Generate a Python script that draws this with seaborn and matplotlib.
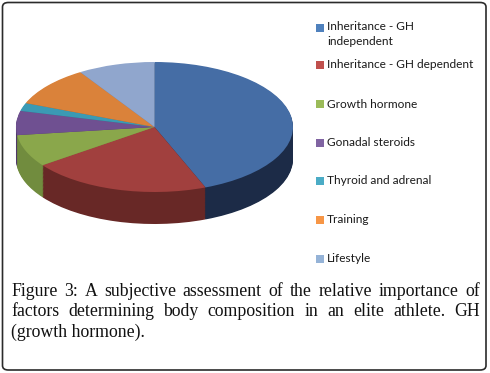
import numpy as np
import pandas as pd
import seaborn as sns
import matplotlib
matplotlib.use("Agg")
import matplotlib.pyplot as plt
from matplotlib.patches import FancyBboxPatch, Rectangle

# ---------------- data ----------------
categories = ["Inheritance - GH\nindependent", "Inheritance - GH dependent",
              "Growth hormone", "Gonadal steroids", "Thyroid and adrenal",
              "Training", "Lifestyle"]
values = [44, 21, 8, 6, 2, 10, 9]
top_colors = ["#456da5", "#a1403e", "#8aa74b", "#6f5091", "#3b9ab4", "#da823a", "#90a6cd"]
side_colors = ["#1c2b47", "#682826", "#718c3e", "#4e3868", "#2a7184", "#a35f29", "#6a7a98"]
legend_colors = ["#4f81bd", "#c0504d", "#9bbb59", "#8064a2", "#4bacc6", "#f79646", "#95b3d7"]
caption_lines = ["Figure 3: A subjective assessment of the relative importance of",
                 "factors determining body composition in an elite athlete. GH",
                 "(growth hormone)."]

sns.set_theme(style="white")
W, H = 490, 373
fig = plt.figure(figsize=(W / 100, H / 100), dpi=100)
fig.patch.set_facecolor("white")


def px(x0, y0, x1, y1):
    return [x0 / W, 1 - y1 / H, (x1 - x0) / W, (y1 - y0) / H]


# ---------------- 3D-looking pie ----------------
ry_px = 65.0
depth_px = 32.0
top_px = 62.0
depth = depth_px / ry_px
bottom_px = top_px + (2 + depth) * ry_px
ax = fig.add_axes(px(16, top_px, 293, bottom_px))
n_layers = 40
for k in range(n_layers, 0, -1):
    ax.pie(values, colors=side_colors, startangle=90, counterclock=False,
           center=(0, -depth * k / n_layers), radius=1,
           wedgeprops=dict(linewidth=0, antialiased=True))
ax.pie(values, colors=top_colors, startangle=90, counterclock=False,
       center=(0, 0), radius=1, wedgeprops=dict(linewidth=0))
ax.set_aspect("auto")
ax.set_xlim(-1, 1)
ax.set_ylim(-1 - depth, 1)
ax.axis("off")

# ---------------- legend ----------------
leg_font = ["Lato", "DejaVu Sans"]
leg_y = [28, 65, 104, 143, 181, 220, 259]
for lab, col, y in zip(categories, legend_colors, leg_y):
    fig.patches.append(Rectangle((316 / W, 1 - (y + 4) / H), 8 / W, 8 / H,
                                 transform=fig.transFigure, facecolor=col,
                                 edgecolor="none"))
    if "\n" in lab:
        fig.text(327 / W, 1 - (y - 7) / H, lab, family=leg_font, fontsize=8.6,
                 color="#1a1a1a", va="top", linespacing=1.45)
    else:
        fig.text(327 / W, 1 - y / H, lab, family=leg_font, fontsize=8.6,
                 color="#1a1a1a", va="center")

# ---------------- caption (justified) ----------------
cap_font = ["Liberation Serif", "DejaVu Serif"]
cap_size = 12.8
renderer = fig.canvas.get_renderer()
x_left, x_right = 11, 480
cap_y = [292, 312, 332]
for i, (line, y) in enumerate(zip(caption_lines, cap_y)):
    words = line.split()
    if i < len(caption_lines) - 1:
        ts = [fig.text(0, 1 - y / H, w, family=cap_font, fontsize=cap_size,
                       color="#111111", va="center") for w in words]
        widths = [t.get_window_extent(renderer).width for t in ts]
        gap = (x_right - x_left - sum(widths)) / (len(words) - 1)
        x = x_left
        for t, wd in zip(ts, widths):
            t.set_x(x / W)
            x += wd + gap
    else:
        fig.text(x_left / W, 1 - y / H, line, family=cap_font, fontsize=cap_size,
                 color="#111111", va="center")

# ---------------- outer rounded frame ----------------
frame = FancyBboxPatch((2.5 / W, 1 - 370 / H), 483.5 / W, 367.5 / H,
                       boxstyle="round,pad=0,rounding_size=0.012",
                       transform=fig.transFigure, facecolor="none",
                       edgecolor="#2b2b2b", linewidth=1.2)
fig.patches.append(frame)

fig.savefig("out.png", dpi=100, facecolor="white")
